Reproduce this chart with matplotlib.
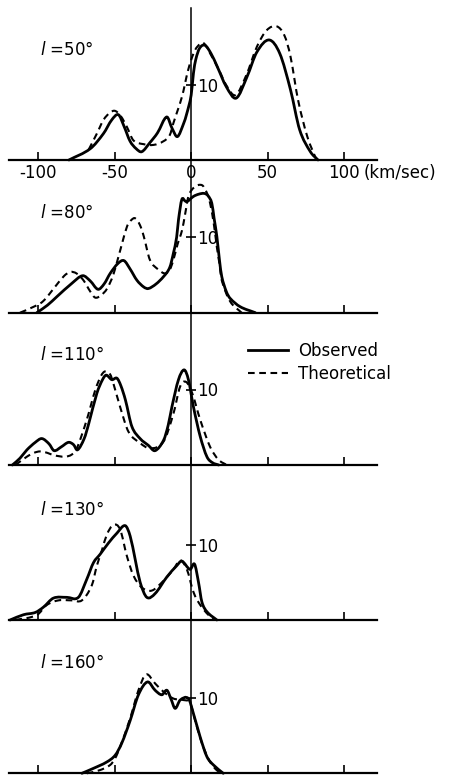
import numpy as np
import matplotlib.pyplot as plt
from matplotlib.path import Path
from matplotlib.patches import PathPatch
from matplotlib.lines import Line2D

# line profiles, velocity (km/sec) vs. intensity, one pair per longitude
longitudes = [50, 80, 110, 130, 160]

v_obs_50 = [-80, -66, -57.4, -52, -47.6, -44, -40, -36, -32.3, -27, -22, -16, -12.5, -9, -5, -2.8, 0, 1.5, 3,
            5.5, 9, 13, 17, 23, 29.5, 36.5, 43, 51, 58, 65, 71, 78, 83]
t_obs_50 = [0, 1.5, 3.5, 5.3, 6.0, 4.5, 2.5, 1.5, 1.1, 2.3, 3.6, 5.7, 4.2, 3.1, 4.8, 6.2, 8.6, 11.5, 13.3,
            14.8, 15.2, 14.1, 12.4, 9.7, 8.2, 11.0, 14.3, 15.9, 14.1, 9.3, 4.0, 1.1, 0]
v_th_50 = [-67, -61.7, -57.4, -53, -49.7, -46, -42.1, -37.8, -31.2, -24.6, -18, -14, -11.6, -6, -2, 1.5, 4, 8,
           13, 18, 23, 29, 36, 43, 49.5, 56, 61, 65, 70, 76, 82]
t_th_50 = [1.4, 3.5, 5.3, 6.3, 6.5, 5.8, 4.4, 2.6, 2.1, 2.0, 2.5, 3.3, 4.9, 8.4, 11.9, 14.1, 15.0, 15.5,
           13.9, 12.0, 9.9, 8.6, 11.2, 15.0, 17.2, 17.7, 16.5, 13.7, 7.9, 3.1, 0]

v_obs_80 = [-101, -94, -88, -78, -71, -66, -61, -57, -53, -48, -44, -40, -35.5, -31, -28, -23, -18, -14, -11.6,
            -9.5, -8.3, -6.1, -4, -2.8, 1.5, 5, 8.5, 11, 13.5, 15, 16.8, 18.5, 20, 23, 25.5, 32, 42]
t_obs_80 = [0, 1.0, 2.1, 3.9, 4.9, 4.2, 3.1, 3.8, 5.2, 6.5, 6.9, 5.8, 4.3, 3.4, 3.2, 3.8, 4.8, 6.0, 7.9, 10.0,
            12.3, 15.0, 14.8, 14.7, 15.4, 15.7, 15.8, 15.5, 14.5, 12.5, 10.1, 7.0, 4.8, 2.8, 1.9, 0.8, 0]
v_th_80 = [-112, -104, -97, -88, -83, -79, -75, -70.5, -66, -62.8, -59, -55, -51, -47.6, -42, -39, -36.6, -33.5,
           -31, -27, -21.4, -17, -14, -11.6, -9, -6, -4, -1.8, 2, 7, 10, 12.4, 15, 16.8, 18.5, 20, 25.5, 33]
t_th_80 = [0, 0.7, 1.5, 3.7, 4.9, 5.4, 5.2, 4.3, 2.8, 2.0, 2.3, 3.2, 5.0, 7.4, 11.4, 12.3, 12.5, 11.6, 10.1, 7.0,
           5.7, 5.2, 5.7, 7.0, 9.0, 10.9, 13.0, 15.4, 16.6, 16.9, 16.0, 14.5, 11.5, 8.7, 6.5, 4.3, 1.5, 0]

v_obs_110 = [-117, -112, -107.5, -102, -97.7, -93, -89.7, -85, -80.3, -77, -74.4, -70, -67, -61.7, -58, -55.6,
             -51.9, -48.6, -46, -43, -38.8, -33.4, -28, -23.6, -18, -15, -12.6, -8.3, -4.6, -1.8, 1.5, 5.9, 10.3,
             14, 18]
t_obs_110 = [0, 0.9, 2.0, 3.0, 3.5, 2.8, 1.9, 2.4, 3.0, 2.7, 2.0, 3.5, 5.5, 9.5, 11.3, 11.9, 11.3, 11.5, 10.5, 8.6,
             5.1, 3.5, 2.6, 1.9, 3.3, 5.3, 7.7, 11.3, 12.6, 11.3, 7.7, 3.8, 1.1, 0.3, 0]
v_th_110 = [-115, -107.5, -103, -98.8, -94, -90, -82.5, -78, -74.8, -68.3, -62.8, -59, -56.3, -53, -50.9, -46.5,
            -41, -33.4, -26.8, -18.1, -11.6, -7.2, -3.3, 0.7, 5.9, 12.4, 17.9, 23.3]
t_th_110 = [0, 1.1, 1.6, 1.8, 1.6, 1.3, 1.1, 1.4, 2.2, 6.0, 9.9, 11.8, 12.4, 12.0, 10.8, 7.7, 4.4, 2.9, 2.2, 3.1,
            6.8, 10.4, 11.0, 9.5, 6.0, 2.4, 0.7, 0]

v_obs_130 = [-118.5, -109.7, -102, -96.7, -90.1, -81.3, -73.8, -68.3, -63.9, -59.6, -54.1, -48.6, -43.2, -39.9,
             -36.6, -33.4, -29, -23.6, -15.9, -9.4, -6.1, -0.7, 2.2, 4.8, 7, 10.3, 16.8]
t_obs_130 = [0, 0.7, 1.0, 1.7, 2.9, 3.0, 3.0, 5.4, 7.6, 8.7, 10.2, 11.5, 12.5, 11.1, 8.0, 5.0, 3.0, 3.5, 5.7, 7.2,
             7.8, 6.7, 7.4, 5.0, 2.4, 1.1, 0]
v_th_130 = [-115, -101, -94.4, -86.8, -78.1, -71.5, -65, -61.7, -58.3, -55.2, -50.9, -46.5, -42.1, -37.8, -32.3,
            -25.7, -18.1, -11.6, -7.2, -2.8, 1.5, 5.9, 11.4, 15.7]
t_th_130 = [0, 0.65, 2.0, 2.6, 2.6, 2.6, 4.6, 7.2, 9.3, 11.3, 12.6, 12.0, 8.5, 5.9, 4.3, 3.9, 5.2, 6.7, 7.9, 6.7,
            3.7, 2.0, 0.65, 0]

v_obs_160 = [-71.5, -63.9, -55.2, -49.7, -45.4, -39.9, -34.5, -28.6, -23.6, -19.2, -15.9, -13.3, -10.5, -7.2,
             -1.8, 1.5, 5.9, 10.3, 14.6, 21]
t_obs_160 = [0, 0.66, 1.5, 2.4, 4.0, 7.0, 10.4, 12.1, 11.0, 10.4, 11.0, 9.9, 8.6, 9.7, 9.9, 7.9, 4.8, 2.2, 1.1, 0]
v_th_160 = [-68.3, -60, -53, -49.7, -46.5, -39.9, -34.5, -29.5, -23.6, -18.1, -11.6, -5.0, -0.7, 2.6, 7, 12.4,
            16.8, 20]
t_th_160 = [0, 0.4, 1.1, 2.0, 3.5, 7.3, 11.0, 13.1, 11.9, 10.8, 9.9, 9.7, 9.3, 7.0, 4.0, 1.5, 0.4, 0]

observed = [(v_obs_50, t_obs_50), (v_obs_80, t_obs_80), (v_obs_110, t_obs_110),
            (v_obs_130, t_obs_130), (v_obs_160, t_obs_160)]
theoretical = [(v_th_50, t_th_50), (v_th_80, t_th_80), (v_th_110, t_th_110),
               (v_th_130, t_th_130), (v_th_160, t_th_160)]

xticks = [-100, -50, 0, 50, 100]
xticklabels = ['-100', '-50', '0', '50', '100']


def smooth_path(x, y):
    # curved path through the read points (cubic Hermite segments drawn as bezier curves)
    x = np.asarray(x, float)
    y = np.asarray(y, float)
    n = len(x)
    m = np.zeros(n)
    m[1:-1] = (y[2:] - y[:-2]) / (x[2:] - x[:-2])
    m[0] = (y[1] - y[0]) / (x[1] - x[0])
    m[-1] = (y[-1] - y[-2]) / (x[-1] - x[-2])
    verts = [(x[0], y[0])]
    codes = [Path.MOVETO]
    for i in range(n - 1):
        h = x[i + 1] - x[i]
        verts += [(x[i] + h / 3, y[i] + m[i] * h / 3),
                  (x[i + 1] - h / 3, y[i + 1] - m[i + 1] * h / 3),
                  (x[i + 1], y[i + 1])]
        codes += [Path.CURVE4] * 3
    return Path(verts, codes)


plt.rcParams['font.family'] = 'DejaVu Sans'

W, H = 451, 775
fig = plt.figure(figsize=(W / 100, H / 100), dpi=100)

# panel geometry in pixels (baseline of each panel, top of each panel)
baselines = [160, 312.7, 465, 620, 773.3]
tops = [8, 160, 312.7, 465, 620]
px_per_unit = 7.55
x0_px, x1_px = 9, 377
xlim = (-119.2, 121.6)

solid_kw = dict(color='black', lw=2.0)
dash_kw = dict(color='black', lw=1.5, dashes=(3.2, 2.2))

for i, lon in enumerate(longitudes):
    b, t = baselines[i], tops[i]
    ax = fig.add_axes([x0_px / W, 1 - b / H, (x1_px - x0_px) / W, (b - t) / H])
    ax.patch.set_visible(False)
    ax.set_xlim(*xlim)
    ax.set_ylim(0, (b - t) / px_per_unit)

    vo, to = observed[i]
    vt, tt = theoretical[i]
    ax.add_patch(PathPatch(smooth_path(vo, to), fill=False, edgecolor='black', lw=2.0,
                           joinstyle='round', capstyle='round', clip_on=False))
    ax.add_patch(PathPatch(smooth_path(vt, tt), fill=False, edgecolor='black', lw=1.5,
                           linestyle=(0, (3.2, 2.2)), clip_on=False))

    for s in ['top', 'left']:
        ax.spines[s].set_visible(False)
    ax.spines['bottom'].set_linewidth(1.6)
    ax.spines['right'].set_position(('data', 0))
    ax.spines['right'].set_linewidth(1.1)

    ax.set_xticks(xticks)
    ax.tick_params(axis='x', direction='in', length=6, width=1.2, pad=3, labelsize=12)
    if i == 0:
        ax.set_xticklabels(xticklabels)
        ax.text(113, -0.085, '(km/sec)', transform=ax.get_xaxis_transform(), fontsize=12,
                ha='left', va='center')
    else:
        ax.set_xticklabels([])

    ax.yaxis.tick_right()
    ax.set_yticks([10])
    ax.set_yticklabels(['10'])
    ax.tick_params(axis='y', direction='inout', length=7, width=1.2, pad=1, labelsize=12)

    ax.text(-99, 14.6 if i != 1 else 13.2, f'$l$ ={lon}°', fontsize=12, ha='left', va='center')

    if i == 2:
        handles = [Line2D([], [], label='Observed', **solid_kw),
                   Line2D([], [], label='Theoretical', **dash_kw)]
        ax.legend(handles=handles, loc='upper left', bbox_to_anchor=(0.649, 0.807), frameon=False,
                  fontsize=12, handlelength=2.4, handletextpad=0.6, labelspacing=0.3,
                  borderpad=0, borderaxespad=0)

fig.savefig('out.png', dpi=100)
